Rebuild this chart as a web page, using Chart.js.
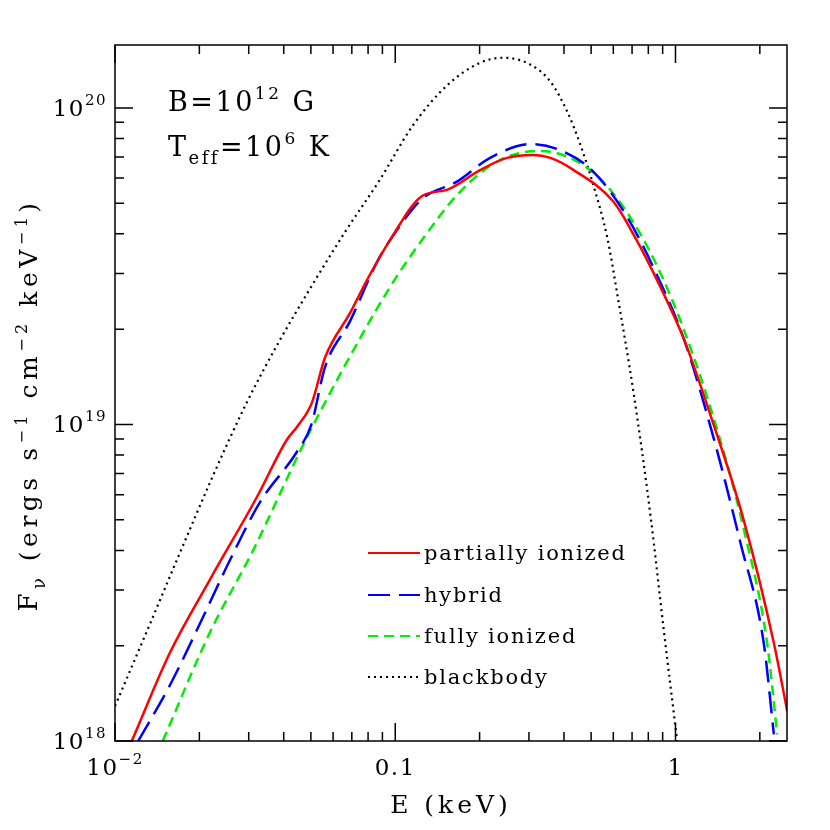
<!DOCTYPE html>
<html>
<head>
<meta charset="utf-8">
<script src="https://cdn.jsdelivr.net/npm/chart.js@4"></script>
<style>
  html, body { margin: 0; padding: 0; background: #fff; }
  #wrap { width: 830px; height: 830px; }
</style>
</head>
<body>
<div id="wrap"><canvas id="chartCanvas" width="830" height="830"></canvas></div>
<script>
// energies in keV, fluxes in units of 1e18 ergs s^-1 cm^-2 keV^-1
const partialE = [0.01148, 0.0157, 0.0218, 0.0321, 0.041, 0.0446, 0.0504, 0.0562, 0.069, 0.0793, 0.0959, 0.1247, 0.153, 0.2014, 0.2506, 0.311, 0.358, 0.432, 0.601, 0.7096, 0.883, 1.072, 1.371, 1.754, 2.244, 2.506];
const partialF = [1.0, 1.90, 3.23, 5.90, 8.93, 9.82, 11.7, 16.3, 22.5, 28.6, 38.3, 52.7, 55.1, 63.7, 69.5, 71.0, 69.5, 63.7, 50.5, 39.7, 27.2, 18.6, 9.93, 4.97, 2.04, 1.24];
const hybridE = [0.0121, 0.0157, 0.0201, 0.0258, 0.033, 0.0446, 0.0501, 0.0562, 0.069, 0.0861, 0.1, 0.1247, 0.166, 0.218, 0.303, 0.398, 0.509, 0.6714, 0.861, 1.072, 1.371, 1.706, 2.065, 2.244];
const hybridF = [1.0, 1.50, 2.35, 3.75, 5.70, 8.2, 9.93, 15.2, 21.2, 32.6, 40.4, 51.6, 58.5, 69.5, 76.8, 72.8, 62.9, 45.3, 29.5, 18.6, 9.0, 4.22, 2.04, 1.05];
const fullyE = [0.0148, 0.0218, 0.0311, 0.0469, 0.0652, 0.0959, 0.1247, 0.1706, 0.237, 0.33, 0.41, 0.5248, 0.6714, 0.861, 1.072, 1.409, 1.754, 2.123, 2.307];
const fullyF = [1.0, 2.2, 4.0, 8.6, 15.0, 27.2, 38.3, 54.4, 68.5, 73.1, 70.2, 61.0, 46.8, 31.6, 19.9, 9.62, 4.66, 2.04, 1.05];
const bbE = [0.01, 0.01282, 0.01688, 0.0222, 0.0292, 0.0384, 0.0506, 0.0665, 0.0875, 0.1159, 0.1535, 0.2014, 0.2432, 0.3034, 0.358, 0.4115, 0.458, 0.509, 0.5715, 0.6194, 0.7096, 0.8147, 0.9078, 1.014];
const bbF = [1.29, 2.16, 3.85, 6.78, 11.5, 18.2, 27.6, 40.8, 58.7, 88.3, 118, 139, 144, 137, 121, 97.1, 76.4, 57.1, 38.8, 25.9, 12.5, 5.14, 2.25, 1.0];

const seriesNames = ['partially ionized', 'hybrid', 'fully ionized', 'blackbody'];
const xTicks = [{ v: 0.01, base: '10', sup: '\u22122' }, { v: 0.1, base: '0.1', sup: '' }, { v: 1, base: '1', sup: '' }];
const yTicks = [{ v: 1, sup: '18' }, { v: 10, sup: '19' }, { v: 100, sup: '20' }];

const FONT = '"DejaVu Serif", serif';

function pts(xs, ys) { return xs.map((x, i) => ({ x: x, y: ys[i] })); }

const styles = [
  { color: '#ff0000', dash: [] },
  { color: '#0000ff', dash: [22, 9] },
  { color: '#00ee00', dash: [10, 6] },
  { color: '#000000', dash: [2, 4] }
];
const allData = [pts(partialE, partialF), pts(hybridE, hybridF), pts(fullyE, fullyF), pts(bbE, bbF)];

// draws a run of [text, size, yOffset] pieces starting at x
function run(ctx, parts, x, y, spacing) {
  ctx.letterSpacing = spacing + 'px';
  ctx.textAlign = 'left';
  ctx.textBaseline = 'alphabetic';
  let cx = x;
  parts.forEach(p => {
    ctx.font = p[1] + 'px ' + FONT;
    ctx.fillText(p[0], cx, y + p[2]);
    cx += ctx.measureText(p[0]).width;
  });
  return cx;
}
function runWidth(ctx, parts, spacing) {
  ctx.letterSpacing = spacing + 'px';
  let w = 0;
  parts.forEach(p => { ctx.font = p[1] + 'px ' + FONT; w += ctx.measureText(p[0]).width; });
  return w;
}

const decor = {
  id: 'decor',
  afterDraw(chart) {
    const ctx = chart.ctx;
    const a = chart.chartArea;
    const xs = chart.scales.x, ys = chart.scales.y;
    ctx.save();
    ctx.strokeStyle = '#000';
    ctx.fillStyle = '#000';
    ctx.lineWidth = 1.5;
    ctx.setLineDash([]);
    ctx.strokeRect(a.left, a.top, a.right - a.left, a.bottom - a.top);

    // ticks on all sides
    ctx.beginPath();
    for (let d = -2; d <= 0; d++) {
      for (let m = 1; m <= 9; m++) {
        const v = m * Math.pow(10, d);
        if (v < xs.min || v > xs.max) continue;
        const px = xs.getPixelForValue(v);
        const len = m === 1 ? 18 : 9;
        ctx.moveTo(px, a.bottom); ctx.lineTo(px, a.bottom - len);
        ctx.moveTo(px, a.top); ctx.lineTo(px, a.top + len);
      }
    }
    for (let d = 0; d <= 2; d++) {
      for (let m = 1; m <= 9; m++) {
        const v = m * Math.pow(10, d);
        if (v < ys.min || v > ys.max) continue;
        const py = ys.getPixelForValue(v);
        const len = m === 1 ? 18 : 9;
        ctx.moveTo(a.left, py); ctx.lineTo(a.left + len, py);
        ctx.moveTo(a.right, py); ctx.lineTo(a.right - len, py);
      }
    }
    ctx.stroke();

    // tick labels
    xTicks.forEach(t => {
      const parts = t.sup ? [[t.base, 23, 0], [t.sup, 15, -11]] : [[t.base, 23, 0]];
      const w = runWidth(ctx, parts, 1.5);
      run(ctx, parts, xs.getPixelForValue(t.v) - w / 2, a.bottom + 34, 1.5);
    });
    yTicks.forEach(t => {
      const parts = [['10', 23, 0], [t.sup, 15, -11]];
      const w = runWidth(ctx, parts, 1.5);
      run(ctx, parts, a.left - 8 - w, ys.getPixelForValue(t.v) + 8, 1.5);
    });

    // axis titles
    const xt = [['E (keV)', 25, 0]];
    run(ctx, xt, (a.left + a.right) / 2 - runWidth(ctx, xt, 4) / 2, 813, 4);
    ctx.save();
    ctx.translate(37, 405);
    ctx.rotate(-Math.PI / 2);
    const yt = [['F', 26, 0], ['\u03bd', 18, 8], [' (ergs s', 25, 0], ['\u22121', 16, -10], [' cm', 25, 0], ['\u22122', 16, -10], [' keV', 25, 0], ['\u22121', 16, -10], [')', 25, 0]];
    run(ctx, yt, -runWidth(ctx, yt, 4.5) / 2, 0, 4.5);
    ctx.restore();

    // annotation
    run(ctx, [['B=10', 27, 0], ['12', 17, -12], [' G', 27, 0]], 168, 111, 2.5);
    run(ctx, [['T', 27, 0], ['eff', 18, 8], ['=10', 27, 0], ['6', 17, -12], [' K', 27, 0]], 168, 156, 2.5);

    // legend
    const ly = [553, 595, 636, 677];
    seriesNames.forEach((name, i) => {
      ctx.strokeStyle = styles[i].color;
      ctx.lineWidth = 2;
      ctx.setLineDash(styles[i].dash);
      ctx.beginPath();
      ctx.moveTo(368, ly[i]); ctx.lineTo(420, ly[i]);
      ctx.stroke();
      ctx.setLineDash([]);
      ctx.fillStyle = '#000';
      run(ctx, [[name, 21, 0]], 424, ly[i] + 7, 1.8);
    });
    ctx.restore();
  }
};

new Chart(document.getElementById('chartCanvas').getContext('2d'), {
  type: 'line',
  data: {
    datasets: allData.map((d, i) => ({
      label: seriesNames[i],
      data: d,
      borderColor: styles[i].color,
      borderDash: styles[i].dash,
      borderWidth: i === 3 ? 2.2 : 2.5,
      pointRadius: 0,
      cubicInterpolationMode: 'monotone',
      fill: false
    }))
  },
  options: {
    responsive: false,
    animation: false,
    layout: { padding: { left: 115, right: 43, top: 45, bottom: 89 } },
    scales: {
      x: { type: 'logarithmic', min: 0.01, max: 2.5, display: false },
      y: { type: 'logarithmic', min: 1, max: 158, display: false }
    },
    plugins: { legend: { display: false }, tooltip: { enabled: false } }
  },
  plugins: [decor]
});
</script>
</body>
</html>
